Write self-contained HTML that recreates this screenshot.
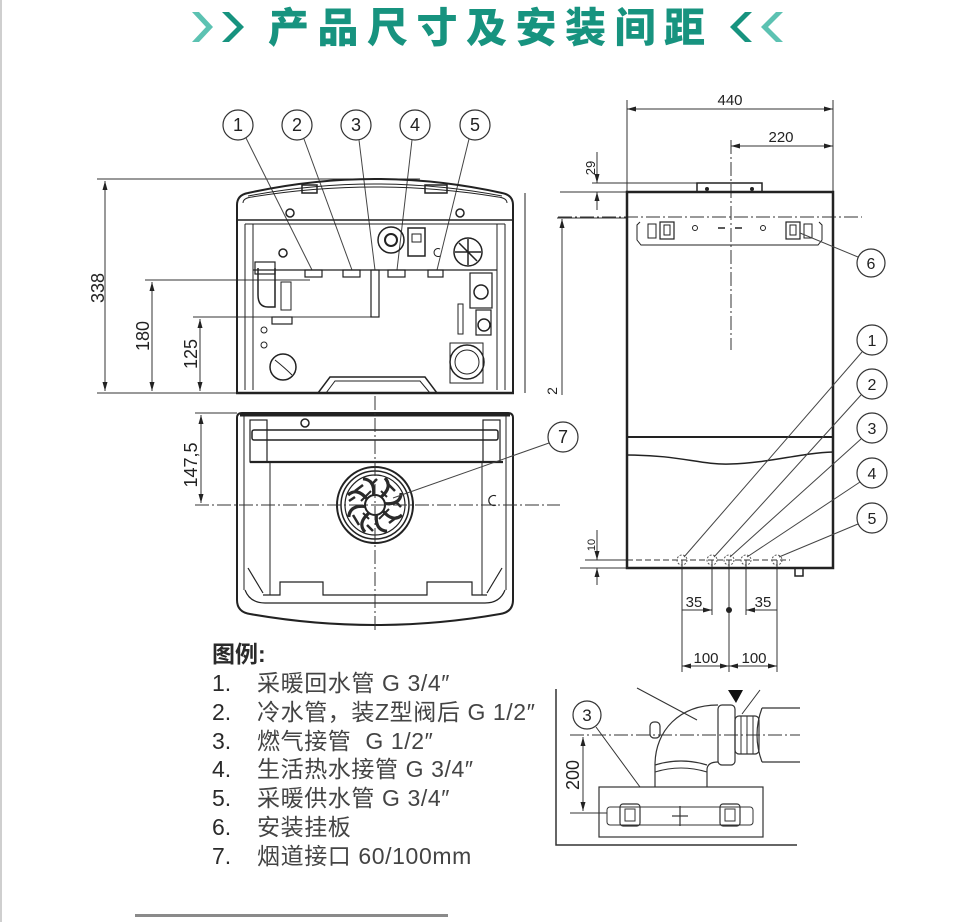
<!DOCTYPE html>
<html><head><meta charset="utf-8"><style>
html,body{margin:0;padding:0;background:#fff;}
svg{display:block;}
</style></head><body>
<svg width="970" height="922" viewBox="0 0 970 922" xmlns="http://www.w3.org/2000/svg" font-family="'Liberation Sans','Noto Sans CJK SC',sans-serif">
<defs>
<marker id="ar" viewBox="0 0 9 5" refX="9" refY="2.5" markerWidth="9" markerHeight="5" markerUnits="userSpaceOnUse" orient="auto-start-reverse" preserveAspectRatio="none"><path d="M0,0L9,2.5L0,5z" fill="#222"/></marker>
</defs>
<rect width="970" height="922" fill="#fff"/>
<line x1="1" y1="0" x2="1" y2="922" stroke="#cfcfcf" stroke-width="2"/>

<!-- Title -->
<polygon points="192,12 199,12 213,27 199,42 192,42 206,27" fill="#5cc2b2"/>
<polygon points="222,12 229,12 244,27 229,42 222,42 237,27" fill="#17937f"/>
<polygon points="752,12 745,12 730,27 745,42 752,42 737,27" fill="#17937f"/>
<polygon points="783,12 776,12 761,27 776,42 783,42 768,27" fill="#5cc2b2"/>
<text x="268" y="42" font-size="41" font-weight="900" fill="#17937f" textLength="437" lengthAdjust="spacing" font-family="'Noto Sans CJK SC','WenQuanYi Zen Hei',sans-serif">产品尺寸及安装间距</text>

<!-- ============ LEFT TOP DRAWING ============ -->
<g stroke="#333" stroke-width="1" fill="none">
<line x1="97" y1="179" x2="420" y2="179"/>
<line x1="97" y1="393" x2="237" y2="393"/>
<line x1="105" y1="181" x2="105" y2="391" marker-start="url(#ar)" marker-end="url(#ar)"/>
<line x1="145" y1="280" x2="310" y2="280"/>
<line x1="152" y1="282" x2="152" y2="391" marker-start="url(#ar)" marker-end="url(#ar)"/>
<line x1="193" y1="317" x2="375" y2="317"/>
<line x1="200" y1="319" x2="200" y2="391" marker-start="url(#ar)" marker-end="url(#ar)"/>
</g>
<g font-size="18" fill="#222" text-anchor="middle">
<text transform="translate(104,288) rotate(-90)">338</text>
<text transform="translate(149,336) rotate(-90)">180</text>
<text transform="translate(197,354) rotate(-90)">125</text>
<text transform="translate(197,465) rotate(-90)">147,5</text>
</g>
<!-- callouts 1-5 -->
<g stroke="#333" stroke-width="1.2" fill="#fff">
<circle cx="238" cy="125" r="15"/><circle cx="297" cy="125" r="15"/><circle cx="356" cy="125" r="15"/><circle cx="415" cy="125" r="15"/><circle cx="475" cy="125" r="15"/>
</g>
<g font-size="18" fill="#222" text-anchor="middle">
<text x="238" y="131">1</text><text x="297" y="131">2</text><text x="356" y="131">3</text><text x="415" y="131">4</text><text x="475" y="131">5</text>
</g>
<g stroke="#444" stroke-width="1">
<line x1="246" y1="138" x2="312" y2="270"/>
<line x1="304" y1="139" x2="352" y2="270"/>
<line x1="359" y1="140" x2="375" y2="270"/>
<line x1="412" y1="140" x2="397" y2="270"/>
<line x1="469" y1="139" x2="437" y2="270"/>
</g>
<!-- boiler top view -->
<g stroke="#222" fill="none">
<path d="M237,393 L237,205 Q237,195 248,193 Q375,165 502,193 Q513,195 513,205 L513,393" stroke-width="2"/>
<line x1="236" y1="393" x2="514" y2="393" stroke-width="2.5"/>
<path d="M243,203 Q243,198 252,197 Q375,177 498,197 Q507,198 507,203" stroke-width="1"/>
<path d="M248,196 Q375,172 502,196" stroke-width="1"/>
<line x1="237" y1="220" x2="513" y2="220" stroke-width="1.5"/>
<line x1="245" y1="224" x2="505" y2="224" stroke-width="1"/>
<line x1="245" y1="224" x2="245" y2="390" stroke-width="1"/>
<line x1="253" y1="224" x2="253" y2="390" stroke-width="1"/>
<line x1="497" y1="224" x2="497" y2="390" stroke-width="1"/>
<line x1="505" y1="224" x2="505" y2="390" stroke-width="1"/>
<line x1="253" y1="270" x2="497" y2="270" stroke-width="1.2"/>
<rect x="305" y="270" width="17" height="7" stroke-width="1.2"/>
<rect x="343" y="270" width="17" height="7" stroke-width="1.2"/>
<rect x="388" y="270" width="17" height="7" stroke-width="1.2"/>
<rect x="428" y="270" width="15" height="7" stroke-width="1.2"/>
<rect x="371" y="270" width="8" height="47" stroke-width="1.2"/>
<path d="M318,393 L330,377 L425,377 L437,393" stroke-width="1.5"/>
<path d="M326,393 L335,381 L420,381 L430,393" stroke-width="1"/>
<circle cx="283" cy="367" r="13" stroke-width="1.5"/>
<path d="M275,360 Q285,368 292,375" stroke-width="1"/>
<rect x="450" y="343" width="33" height="40" stroke-width="1"/>
<circle cx="467" cy="362" r="17" stroke-width="1.5"/>
<circle cx="467" cy="362" r="12" stroke-width="1"/>
<circle cx="391" cy="240" r="13" stroke-width="1.5"/>
<circle cx="391" cy="240" r="6" stroke-width="2"/>
<rect x="408" y="228" width="17" height="28" stroke-width="1.5"/>
<rect x="412" y="234" width="9" height="8" stroke-width="1"/>
<circle cx="468" cy="252" r="14" stroke-width="1.5"/>
<path d="M468,239 L468,265 M455,252 L481,252 M459,243 L477,261" stroke-width="1.5"/>
<circle cx="283" cy="253" r="4" stroke-width="1.5"/>
<path d="M440,249 A4,4 0 1 0 440,256" stroke-width="1"/>
<path d="M258,268 L258,295 Q258,307 268,307 L275,307 L275,268" stroke-width="1.5"/>
<rect x="255" y="262" width="20" height="12" stroke-width="1.2"/>
<rect x="281" y="282" width="10" height="28" stroke-width="1"/>
<rect x="272" y="317" width="20" height="7" stroke-width="1.2"/>
<circle cx="264" cy="330" r="3" stroke-width="1"/>
<circle cx="264" cy="345" r="3" stroke-width="1"/>
<rect x="470" y="273" width="22" height="35" stroke-width="1.2"/>
<circle cx="481" cy="292" r="7" stroke-width="1.5"/>
<rect x="476" y="310" width="15" height="25" stroke-width="1.2"/>
<circle cx="484" cy="325" r="6" stroke-width="1.5"/>
<rect x="458" y="304" width="5" height="30" stroke-width="1"/>
<line x1="525" y1="193" x2="525" y2="393" stroke-width="1"/>
<rect x="302" y="185" width="15" height="8" stroke-width="1.5"/>
<rect x="425" y="185" width="22" height="8" stroke-width="1.5"/>
<circle cx="290" cy="213" r="4" stroke-width="1.5"/>
<circle cx="460" cy="213" r="4" stroke-width="1.5"/>
</g>

<!-- ============ LEFT BOTTOM DRAWING ============ -->
<g stroke="#222" fill="none">
<path d="M237,600 L237,418 Q237,413 242,413 L508,413 Q513,413 513,418 L513,600" stroke-width="2"/>
<line x1="240" y1="415" x2="510" y2="415" stroke-width="3"/>
<path d="M237,600 Q237,612 250,614 Q375,636 500,614 Q513,612 513,600" stroke-width="2"/>
<path d="M245,590 Q250,603 265,603 L485,603 Q500,603 505,590" stroke-width="1.2"/>
<line x1="244" y1="416" x2="244" y2="590" stroke-width="1"/>
<line x1="506" y1="416" x2="506" y2="590" stroke-width="1"/>
<line x1="270" y1="462" x2="270" y2="595" stroke-width="1"/>
<line x1="482" y1="462" x2="482" y2="595" stroke-width="1"/>
<line x1="250" y1="462" x2="503" y2="462" stroke-width="2.2"/>
<rect x="252" y="430" width="246" height="10" rx="2" stroke-width="1.5"/>
<rect x="250" y="420" width="17" height="42" stroke-width="1.2"/>
<rect x="483" y="420" width="17" height="42" stroke-width="1.2"/>
<circle cx="305" cy="423" r="4" stroke-width="1.5"/>
<line x1="248" y1="568" x2="263" y2="593" stroke-width="1.2"/>
<line x1="502" y1="568" x2="487" y2="593" stroke-width="1.2"/>
<path d="M263,595 L280,595 L280,582 L323,582 L323,595 L427,595 L427,582 L472,582 L472,595 L487,595" stroke-width="1.2"/>
<path d="M496,496 A5,5 0 1 0 496,505" stroke-width="1.2"/>
<circle cx="375" cy="505" r="38" stroke-width="2"/>
<circle cx="375" cy="505" r="34" stroke-width="1.5"/>
<circle cx="375" cy="505" r="30" stroke-width="1.2"/>
<circle cx="375" cy="505" r="10" stroke-width="2"/>
<g transform="translate(375,505)" stroke-width="3.2" stroke="#2a2a2a">
<path d="M6,-8 Q18,-18 10,-27"/>
<path d="M6,-8 Q18,-18 10,-27" transform="rotate(45)"/>
<path d="M6,-8 Q18,-18 10,-27" transform="rotate(90)"/>
<path d="M6,-8 Q18,-18 10,-27" transform="rotate(135)"/>
<path d="M6,-8 Q18,-18 10,-27" transform="rotate(180)"/>
<path d="M6,-8 Q18,-18 10,-27" transform="rotate(225)"/>
<path d="M6,-8 Q18,-18 10,-27" transform="rotate(270)"/>
<path d="M6,-8 Q18,-18 10,-27" transform="rotate(315)"/>
<path d="M-20,-14 L-12,-20 M14,18 L22,12 M-22,10 L-16,20 M12,-22 L20,-14 M-8,20 L-2,26 M20,-4 L26,2 M-26,-4 L-20,-8 M2,-26 L-4,-20" stroke-width="2.5"/>
<path d="M-14,-4 L-4,-14 M4,14 L14,4 M-12,8 L-6,14 M6,-14 L12,-8" stroke-width="2"/>
</g>
</g>
<g stroke="#333" stroke-width="1" fill="none">
<line x1="375" y1="396" x2="375" y2="632" stroke-dasharray="14,3,2,3"/>
<line x1="195" y1="505" x2="560" y2="505" stroke-dasharray="14,3,2,3"/>
<line x1="195" y1="413" x2="237" y2="413"/>
<line x1="201" y1="415" x2="201" y2="503" marker-start="url(#ar)" marker-end="url(#ar)"/>
<line x1="549" y1="443" x2="393" y2="498" stroke="#444"/>
</g>
<circle cx="563" cy="437" r="15" stroke="#333" stroke-width="1.2" fill="#fff"/>
<text x="563" y="443" font-size="18" fill="#222" text-anchor="middle">7</text>

<!-- ============ RIGHT DRAWING ============ -->
<g stroke="#333" stroke-width="1" fill="none">
<line x1="627" y1="100" x2="627" y2="192"/>
<line x1="833" y1="100" x2="833" y2="192"/>
<line x1="627" y1="109" x2="833" y2="109" marker-start="url(#ar)" marker-end="url(#ar)"/>
<line x1="731" y1="146" x2="833" y2="146" marker-start="url(#ar)" marker-end="url(#ar)"/>
<line x1="731" y1="140" x2="731" y2="350" stroke-dasharray="14,3,2,3"/>
<line x1="558" y1="217" x2="862" y2="217" stroke-dasharray="14,3,2,3"/>
<line x1="597" y1="152" x2="597" y2="183" marker-end="url(#ar)"/>
<line x1="597" y1="210" x2="597" y2="192" marker-end="url(#ar)"/>
<line x1="592" y1="183" x2="697" y2="183"/>
<line x1="560" y1="192" x2="627" y2="192"/>
<line x1="562" y1="395" x2="562" y2="219" marker-end="url(#ar)"/>
<line x1="557" y1="218" x2="627" y2="218"/>
<line x1="597" y1="530" x2="597" y2="560" marker-end="url(#ar)"/>
<line x1="597" y1="585" x2="597" y2="568" marker-end="url(#ar)"/>
<line x1="585" y1="560" x2="627" y2="560"/>
<line x1="580" y1="568" x2="627" y2="568"/>
<line x1="627" y1="560" x2="790" y2="560" stroke-dasharray="6,3"/>
<line x1="682" y1="560" x2="682" y2="672"/>
<line x1="712" y1="560" x2="712" y2="615"/>
<line x1="729" y1="560" x2="729" y2="672"/>
<line x1="746" y1="560" x2="746" y2="615"/>
<line x1="777" y1="560" x2="777" y2="672"/>
<line x1="682" y1="610" x2="712" y2="610" marker-end="url(#ar)"/>
<line x1="777" y1="610" x2="746" y2="610" marker-end="url(#ar)"/>
<line x1="682" y1="666" x2="729" y2="666" marker-start="url(#ar)" marker-end="url(#ar)"/>
<line x1="729" y1="666" x2="777" y2="666" marker-start="url(#ar)" marker-end="url(#ar)"/>
</g>
<circle cx="729" cy="610" r="3" fill="#222"/>
<g font-size="15" fill="#222" text-anchor="middle">
<text x="730" y="105">440</text>
<text x="781" y="142">220</text>
<text x="694" y="607">35</text>
<text x="763" y="607">35</text>
<text x="706" y="663">100</text>
<text x="754" y="663">100</text>
<text transform="translate(595,168) rotate(-90)" font-size="13">29</text>
<text transform="translate(557,391) rotate(-90)" font-size="14">2</text>
<text transform="translate(595,545) rotate(-90)" font-size="11">10</text>
</g>
<g stroke="#222" fill="none">
<rect x="697" y="183" width="65" height="9" stroke-width="1.5"/>
<circle cx="707" cy="189" r="1.5" fill="#222"/>
<circle cx="752" cy="189" r="1.5" fill="#222"/>
<rect x="627" y="192" width="206" height="376" stroke-width="2.5"/>
<line x1="627" y1="437" x2="833" y2="437" stroke-width="2"/>
<path d="M627,455 C680,455 700,465 730,464 C770,463 800,453 833,452" stroke-width="1.5"/>
<rect x="795" y="568" width="8" height="8" stroke-width="1.5"/>
<path d="M640,222 L637,225 L637,240 L641,245 L818,245 L822,240 L822,225 L819,222" stroke-width="1"/>
<rect x="648" y="224" width="8" height="14" stroke-width="1"/>
<rect x="660" y="222" width="14" height="17" stroke-width="1.2"/>
<rect x="664" y="225" width="6" height="10" stroke-width="1"/>
<rect x="786" y="222" width="14" height="17" stroke-width="1.2"/>
<rect x="790" y="225" width="6" height="10" stroke-width="1"/>
<rect x="804" y="224" width="8" height="14" stroke-width="1"/>
<circle cx="695" cy="228" r="2.5" stroke-width="1"/>
<circle cx="763" cy="228" r="2.5" stroke-width="1"/>
<line x1="718" y1="228" x2="725" y2="228" stroke-width="1.5"/>
<line x1="735" y1="228" x2="742" y2="228" stroke-width="1.5"/>
<g stroke-width="1" stroke-dasharray="2,1.5" stroke="#555">
<circle cx="682" cy="560" r="5"/><circle cx="712" cy="560" r="5"/><circle cx="729" cy="560" r="5"/><circle cx="746" cy="560" r="5"/><circle cx="777" cy="560" r="5"/>
</g>
</g>
<g stroke="#444" stroke-width="1">
<line x1="858" y1="257" x2="800" y2="233"/>
<line x1="862" y1="352" x2="684" y2="557"/>
<line x1="861" y1="395" x2="714" y2="557"/>
<line x1="861" y1="439" x2="730" y2="557"/>
<line x1="860" y1="482" x2="747" y2="557"/>
<line x1="858" y1="524" x2="779" y2="557"/>
</g>
<g stroke="#333" stroke-width="1.2" fill="#fff">
<circle cx="871" cy="263" r="14"/>
<circle cx="872" cy="340" r="15"/><circle cx="872" cy="384" r="15"/><circle cx="872" cy="428" r="15"/><circle cx="872" cy="473" r="15"/><circle cx="872" cy="518" r="15"/>
</g>
<g font-size="16" fill="#222" text-anchor="middle">
<text x="871" y="269">6</text>
<text x="872" y="346">1</text><text x="872" y="390">2</text><text x="872" y="434">3</text><text x="872" y="479">4</text><text x="872" y="524">5</text>
</g>

<!-- ============ BOTTOM RIGHT DETAIL ============ -->
<g stroke="#333" fill="none">
<path d="M556,689 L556,845 L797,845" stroke-width="1.5"/>
<line x1="570" y1="735" x2="800" y2="735" stroke-width="1" stroke-dasharray="14,3,2,3"/>
<line x1="570" y1="813" x2="607" y2="813" stroke-width="1"/>
<line x1="583" y1="737" x2="583" y2="811" stroke-width="1" marker-start="url(#ar)" marker-end="url(#ar)"/>
<rect x="599" y="787" width="164" height="50" stroke-width="1.2"/>
<rect x="607" y="807" width="146" height="18" rx="3" stroke-width="1"/>
<rect x="620" y="804" width="20" height="22" rx="3" stroke-width="1.2"/>
<rect x="625" y="809" width="10" height="12" stroke-width="1"/>
<rect x="720" y="804" width="20" height="22" rx="3" stroke-width="1.2"/>
<rect x="725" y="809" width="10" height="12" stroke-width="1"/>
<line x1="680" y1="806" x2="680" y2="826" stroke-width="1.2"/>
<line x1="672" y1="816" x2="688" y2="816" stroke-width="1.2"/>
<line x1="800" y1="708" x2="762" y2="708" stroke-width="1.2"/>
<line x1="800" y1="762" x2="762" y2="762" stroke-width="1.2"/>
<path d="M762,708 Q752,735 762,762" stroke-width="1.2"/>
<rect x="735" y="716" width="24" height="38" rx="4" stroke-width="1.2"/>
<line x1="741" y1="716" x2="741" y2="754" stroke-width="1"/>
<line x1="747" y1="716" x2="747" y2="754" stroke-width="1"/>
<line x1="753" y1="716" x2="753" y2="754" stroke-width="1"/>
<rect x="718" y="705" width="17" height="60" rx="4" stroke-width="1.2"/>
<path d="M655,787 L655,765 C655,730 680,705 718,705" stroke-width="1.2"/>
<path d="M707,787 L707,770 Q707,762 718,762" stroke-width="1.2"/>
<path d="M655,765 Q681,757 707,765" stroke-width="1.2"/>
<path d="M655,772 Q681,764 707,772" stroke-width="1"/>
<rect x="650" y="722" width="10" height="16" rx="4" stroke-width="1.2"/>
<line x1="637" y1="688" x2="697" y2="720" stroke-width="1"/>
<line x1="760" y1="690" x2="742" y2="714" stroke-width="1"/>
<line x1="596" y1="727" x2="640" y2="787" stroke-width="1"/>
</g>
<polygon points="728,690 743,690 736,703" fill="#111"/>
<circle cx="587" cy="715" r="14" stroke="#333" stroke-width="1.2" fill="#fff"/>
<text x="587" y="721" font-size="17" fill="#222" text-anchor="middle">3</text>
<text transform="translate(579,775) rotate(-90)" font-size="18" fill="#222" text-anchor="middle">200</text>

<!-- ============ LEGEND ============ -->
<g font-size="23" fill="#2a2a2a">
<text x="212" y="662" font-weight="bold">图例:</text>
<text x="212" y="691">1.</text><text x="257" y="691" fill="#444" letter-spacing="0.6">采暖回水管 G 3/4″</text>
<text x="212" y="720">2.</text><text x="257" y="720" fill="#444" letter-spacing="0.6">冷水管，装Z型阀后 G 1/2″</text>
<text x="212" y="749">3.</text><text x="257" y="749" fill="#444" letter-spacing="0.6">燃气接管&#160; G 1/2″</text>
<text x="212" y="777">4.</text><text x="257" y="777" fill="#444" letter-spacing="0.6">生活热水接管 G 3/4″</text>
<text x="212" y="806">5.</text><text x="257" y="806" fill="#444" letter-spacing="0.6">采暖供水管 G 3/4″</text>
<text x="212" y="835">6.</text><text x="257" y="835" fill="#444" letter-spacing="0.6">安装挂板</text>
<text x="212" y="864">7.</text><text x="257" y="864" fill="#444" letter-spacing="0.6">烟道接口 60/100mm</text>
</g>

<rect x="135" y="914" width="313" height="3" fill="#8a8a8a"/>
</svg>
</body></html>
